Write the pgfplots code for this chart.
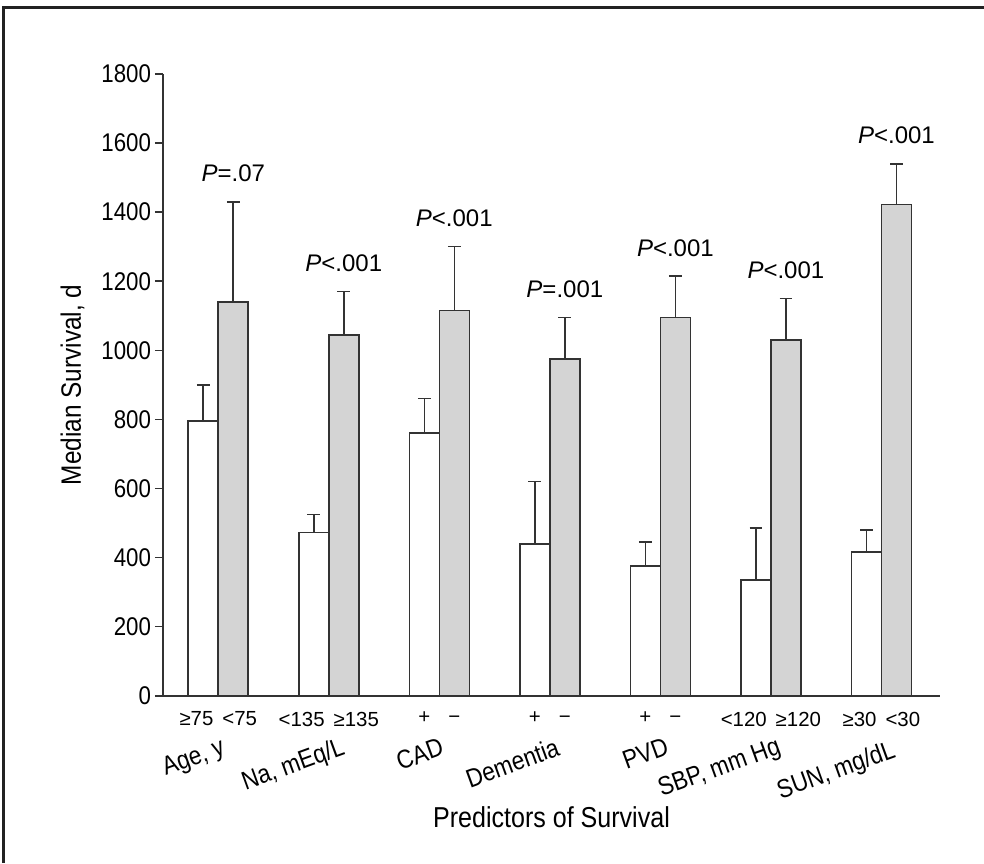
\documentclass[border=0pt]{standalone}
\usepackage{fontspec}
\setmainfont{Liberation Sans}
\newfontfamily\cond{Liberation Sans}[FakeStretch=0.87]
\usepackage{pgfplots}
\pgfplotsset{compat=1.18}
\definecolor{barline}{RGB}{51,51,51}
\definecolor{barfill}{RGB}{212,212,212}
\definecolor{framecol}{RGB}{34,34,34}
\begin{document}
\begin{tikzpicture}
\begin{axis}[
  name=ax,
  at={(0,0)}, anchor=south west,
  width=388.5pt, height=310.85pt, scale only axis,
  xmin=0.5, xmax=7.53, ymin=0, ymax=1800,
  ytick={0,200,...,1800},
  xtick={1,...,7},
  xticklabels={{≥75\hspace{4.5pt}<75},{<135\hspace{4.5pt}≥135},{+\hspace{9pt}−},{+\hspace{9pt}−},{+\hspace{9pt}−},{<120\hspace{4.5pt}≥120},{≥30\hspace{4.5pt}<30}},
  axis x line=bottom, axis y line=left,
  axis line style={draw=barline, line width=0.8pt, -},
  tick align=outside, major tick length=4pt,
  tick style={barline, line width=0.8pt},
  major x tick style={draw=none},
  ybar, bar width=15pt,
  clip=false,
  /pgf/number format/assume math mode=true,
  /pgf/number format/1000 sep={},
  yticklabel style={font=\cond\fontsize{12.8}{14}\selectfont, xshift=1.5pt},
  xticklabel style={font=\fontsize{10.2}{12}\selectfont, yshift=-0.5pt},
  xlabel={Predictors of Survival},
  xlabel style={font=\cond\fontsize{14.4}{16}\selectfont, at={(axis description cs:0.5,-0.2117)}, anchor=base},
  ylabel={Median Survival, d},
  ylabel style={font=\cond\fontsize{14}{16}\selectfont, at={(axis description cs:-0.1165,0.5)}, anchor=center},
]
\addplot[fill=white, draw=barline, line width=0.8pt, bar shift=-7.5pt,
  error bars/.cd, y dir=plus, y explicit,
  error bar style={line width=0.8pt, barline},
  error mark options={rotate=90, barline, line width=0.8pt, mark size=3.2pt}]
  coordinates {(1,795) +- (0,105) (2,472) +- (0,53) (3,760) +- (0,100) (4,440) +- (0,180)
               (5,376) +- (0,69) (6,335) +- (0,150) (7,416) +- (0,64)};
\addplot[fill=barfill, draw=barline, line width=0.8pt, bar shift=7.5pt,
  error bars/.cd, y dir=plus, y explicit,
  error bar style={line width=0.8pt, barline},
  error mark options={rotate=90, barline, line width=0.8pt, mark size=3.2pt}]
  coordinates {(1,1140) +- (0,290) (2,1045) +- (0,125) (3,1115) +- (0,185) (4,975) +- (0,120)
               (5,1095) +- (0,120) (6,1030) +- (0,120) (7,1422) +- (0,118)};
% P labels
\node[anchor=base, font=\fontsize{12}{14}\selectfont] at ([xshift=7.5pt,yshift=10pt]axis cs:1,1430) {\textit{P}=.07};
\node[anchor=base, font=\fontsize{12}{14}\selectfont] at ([xshift=7.5pt,yshift=10pt]axis cs:2,1170) {\textit{P}<.001};
\node[anchor=base, font=\fontsize{12}{14}\selectfont] at ([xshift=7.5pt,yshift=10pt]axis cs:3,1300) {\textit{P}<.001};
\node[anchor=base, font=\fontsize{12}{14}\selectfont] at ([xshift=7.5pt,yshift=10pt]axis cs:4,1095) {\textit{P}=.001};
\node[anchor=base, font=\fontsize{12}{14}\selectfont] at ([xshift=7.5pt,yshift=10pt]axis cs:5,1215) {\textit{P}<.001};
\node[anchor=base, font=\fontsize{12}{14}\selectfont] at ([xshift=7.5pt,yshift=10pt]axis cs:6,1150) {\textit{P}<.001};
\node[anchor=base, font=\fontsize{12}{14}\selectfont] at ([xshift=7.5pt,yshift=10pt]axis cs:7,1540) {\textit{P}<.001};
% group names
\node[anchor=north east, rotate=20, inner sep=0pt, font=\cond\fontsize{13}{15}\selectfont] at ([xshift=1pt,yshift=-20.5pt]axis cs:1,0) {Age, y};
\node[anchor=north east, rotate=20, inner sep=0pt, font=\cond\fontsize{13}{15}\selectfont] at ([xshift=5.5pt,yshift=-20pt]axis cs:2,0) {Na, mEq/L};
\node[anchor=north east, rotate=20, inner sep=0pt, font=\cond\fontsize{13}{15}\selectfont] at ([xshift=0pt,yshift=-20.5pt]axis cs:3,0) {CAD};
\node[anchor=north east, rotate=20, inner sep=0pt, font=\cond\fontsize{13}{15}\selectfont] at ([xshift=2.5pt,yshift=-20.5pt]axis cs:4,0) {Dementia};
\node[anchor=north east, rotate=20, inner sep=0pt, font=\cond\fontsize{13}{15}\selectfont] at ([xshift=2pt,yshift=-20.5pt]axis cs:5,0) {PVD};
\node[anchor=north east, rotate=20, inner sep=0pt, font=\cond\fontsize{13}{15}\selectfont] at ([xshift=2.5pt,yshift=-20pt]axis cs:6,0) {SBP, mm Hg};
\node[anchor=north east, rotate=20, inner sep=0pt, font=\cond\fontsize{13}{15}\selectfont] at ([xshift=4.5pt,yshift=-21.5pt]axis cs:7,0) {SUN, mg/dL};
\end{axis}
\draw[line width=1.5pt, framecol] ([xshift=-79.5pt,yshift=-83.65pt]ax.south west) -- ([xshift=-79.5pt,yshift=343.85pt]ax.south west) -- ([xshift=410.5pt,yshift=343.85pt]ax.south west);
\pgfresetboundingbox
\path[use as bounding box] ([xshift=-81.5pt,yshift=-83.65pt]ax.south west) rectangle ([xshift=410.5pt,yshift=347.85pt]ax.south west);
\end{tikzpicture}
\end{document}
